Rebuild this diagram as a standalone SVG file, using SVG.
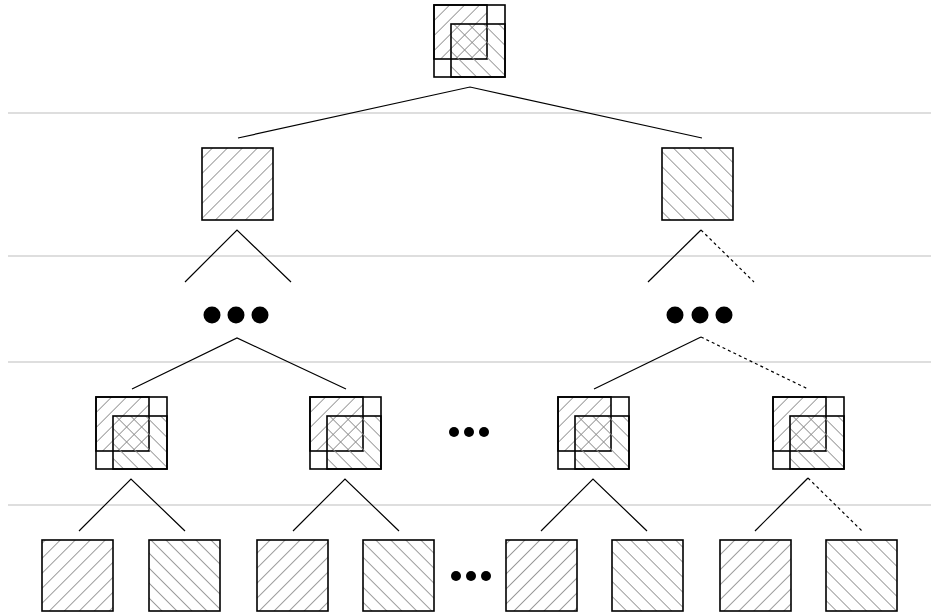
<svg xmlns="http://www.w3.org/2000/svg" xmlns:xlink="http://www.w3.org/1999/xlink" width="931" height="614" viewBox="0 0 931 614">
<style>
.frame{fill:none;stroke:#000;stroke-width:1.6}
.ha{fill:url(#hatchA);stroke:#000;stroke-width:1.6}
.hb{fill:url(#hatchB);stroke:#000;stroke-width:1.6}
.sep{stroke:#bdbdbd;stroke-width:1.2}
.edge{stroke:#000;stroke-width:1.2;fill:none}
.dash{stroke:#000;stroke-width:1.2;fill:none;stroke-dasharray:3,3}
.dot{fill:#000}
</style>
<defs>
<pattern id="hatchA" patternUnits="userSpaceOnUse" width="10.6" height="10.6" patternTransform="rotate(45)">
<line x1="0" y1="0" x2="0" y2="10.6" stroke="#8c8c8c" stroke-width="1.7"/>
</pattern>
<pattern id="hatchB" patternUnits="userSpaceOnUse" width="10.6" height="10.6" patternTransform="rotate(-45)">
<line x1="0" y1="0" x2="0" y2="10.6" stroke="#8c8c8c" stroke-width="1.7"/>
</pattern>
<g id="comp">
<rect class="ha" x="0" y="0" width="53" height="54"/>
<rect class="hb" x="17" y="19" width="54" height="53"/>
<rect class="frame" x="0" y="0" width="71" height="72"/>
</g>
</defs>
<g id="separators">
<line class="sep" x1="8" y1="113" x2="931" y2="113"/>
<line class="sep" x1="8" y1="256" x2="931" y2="256"/>
<line class="sep" x1="8" y1="362" x2="931" y2="362"/>
<line class="sep" x1="8" y1="505" x2="931" y2="505"/>
</g>
<g id="connectors">
<polyline class="edge" points="238,138 470,87 702,138"/>
<polyline class="edge" points="185,282 237,230 291,282"/>
<line class="edge" x1="648" y1="282" x2="701" y2="230"/>
<line class="dash" x1="701" y1="230" x2="754" y2="282"/>
<polyline class="edge" points="132,389 237,338 346,389"/>
<line class="edge" x1="594" y1="389" x2="701" y2="337"/>
<line class="dash" x1="701" y1="337" x2="808" y2="389"/>
<polyline class="edge" points="79,531 131,479 185,531"/>
<polyline class="edge" points="293,531 345,479 399,531"/>
<polyline class="edge" points="541,531 593,479 647,531"/>
<line class="edge" x1="755" y1="531" x2="808" y2="478"/>
<line class="dash" x1="808" y1="478" x2="862" y2="531"/>
</g>
<g id="root"><use xlink:href="#comp" x="434" y="5"/></g>
<g id="l2-left"><rect class="ha" x="202" y="148" width="71" height="72"/></g>
<g id="l2-right"><rect class="hb" x="662" y="148" width="71" height="72"/></g>
<g id="dots-left"><circle class="dot" cx="212" cy="315" r="8.5"/><circle class="dot" cx="236" cy="315" r="8.5"/><circle class="dot" cx="260" cy="315" r="8.5"/></g>
<g id="dots-right"><circle class="dot" cx="675" cy="315" r="8.5"/><circle class="dot" cx="700" cy="315" r="8.5"/><circle class="dot" cx="724" cy="315" r="8.5"/></g>
<g id="l4-1"><use xlink:href="#comp" x="96" y="397"/></g>
<g id="l4-2"><use xlink:href="#comp" x="310" y="397"/></g>
<g id="dots-l4"><circle class="dot" cx="454" cy="432" r="5"/><circle class="dot" cx="469" cy="432" r="5"/><circle class="dot" cx="484" cy="432" r="5"/></g>
<g id="l4-3"><use xlink:href="#comp" x="558" y="397"/></g>
<g id="l4-4"><use xlink:href="#comp" x="773" y="397"/></g>
<g id="l5-1"><rect class="ha" x="42" y="540" width="71" height="71"/></g>
<g id="l5-2"><rect class="hb" x="149" y="540" width="71" height="71"/></g>
<g id="l5-3"><rect class="ha" x="257" y="540" width="71" height="71"/></g>
<g id="l5-4"><rect class="hb" x="363" y="540" width="71" height="71"/></g>
<g id="dots-l5"><circle class="dot" cx="456" cy="576" r="5"/><circle class="dot" cx="471" cy="576" r="5"/><circle class="dot" cx="486" cy="576" r="5"/></g>
<g id="l5-5"><rect class="ha" x="506" y="540" width="71" height="71"/></g>
<g id="l5-6"><rect class="hb" x="612" y="540" width="71" height="71"/></g>
<g id="l5-7"><rect class="ha" x="720" y="540" width="71" height="71"/></g>
<g id="l5-8"><rect class="hb" x="826" y="540" width="71" height="71"/></g>
</svg>
